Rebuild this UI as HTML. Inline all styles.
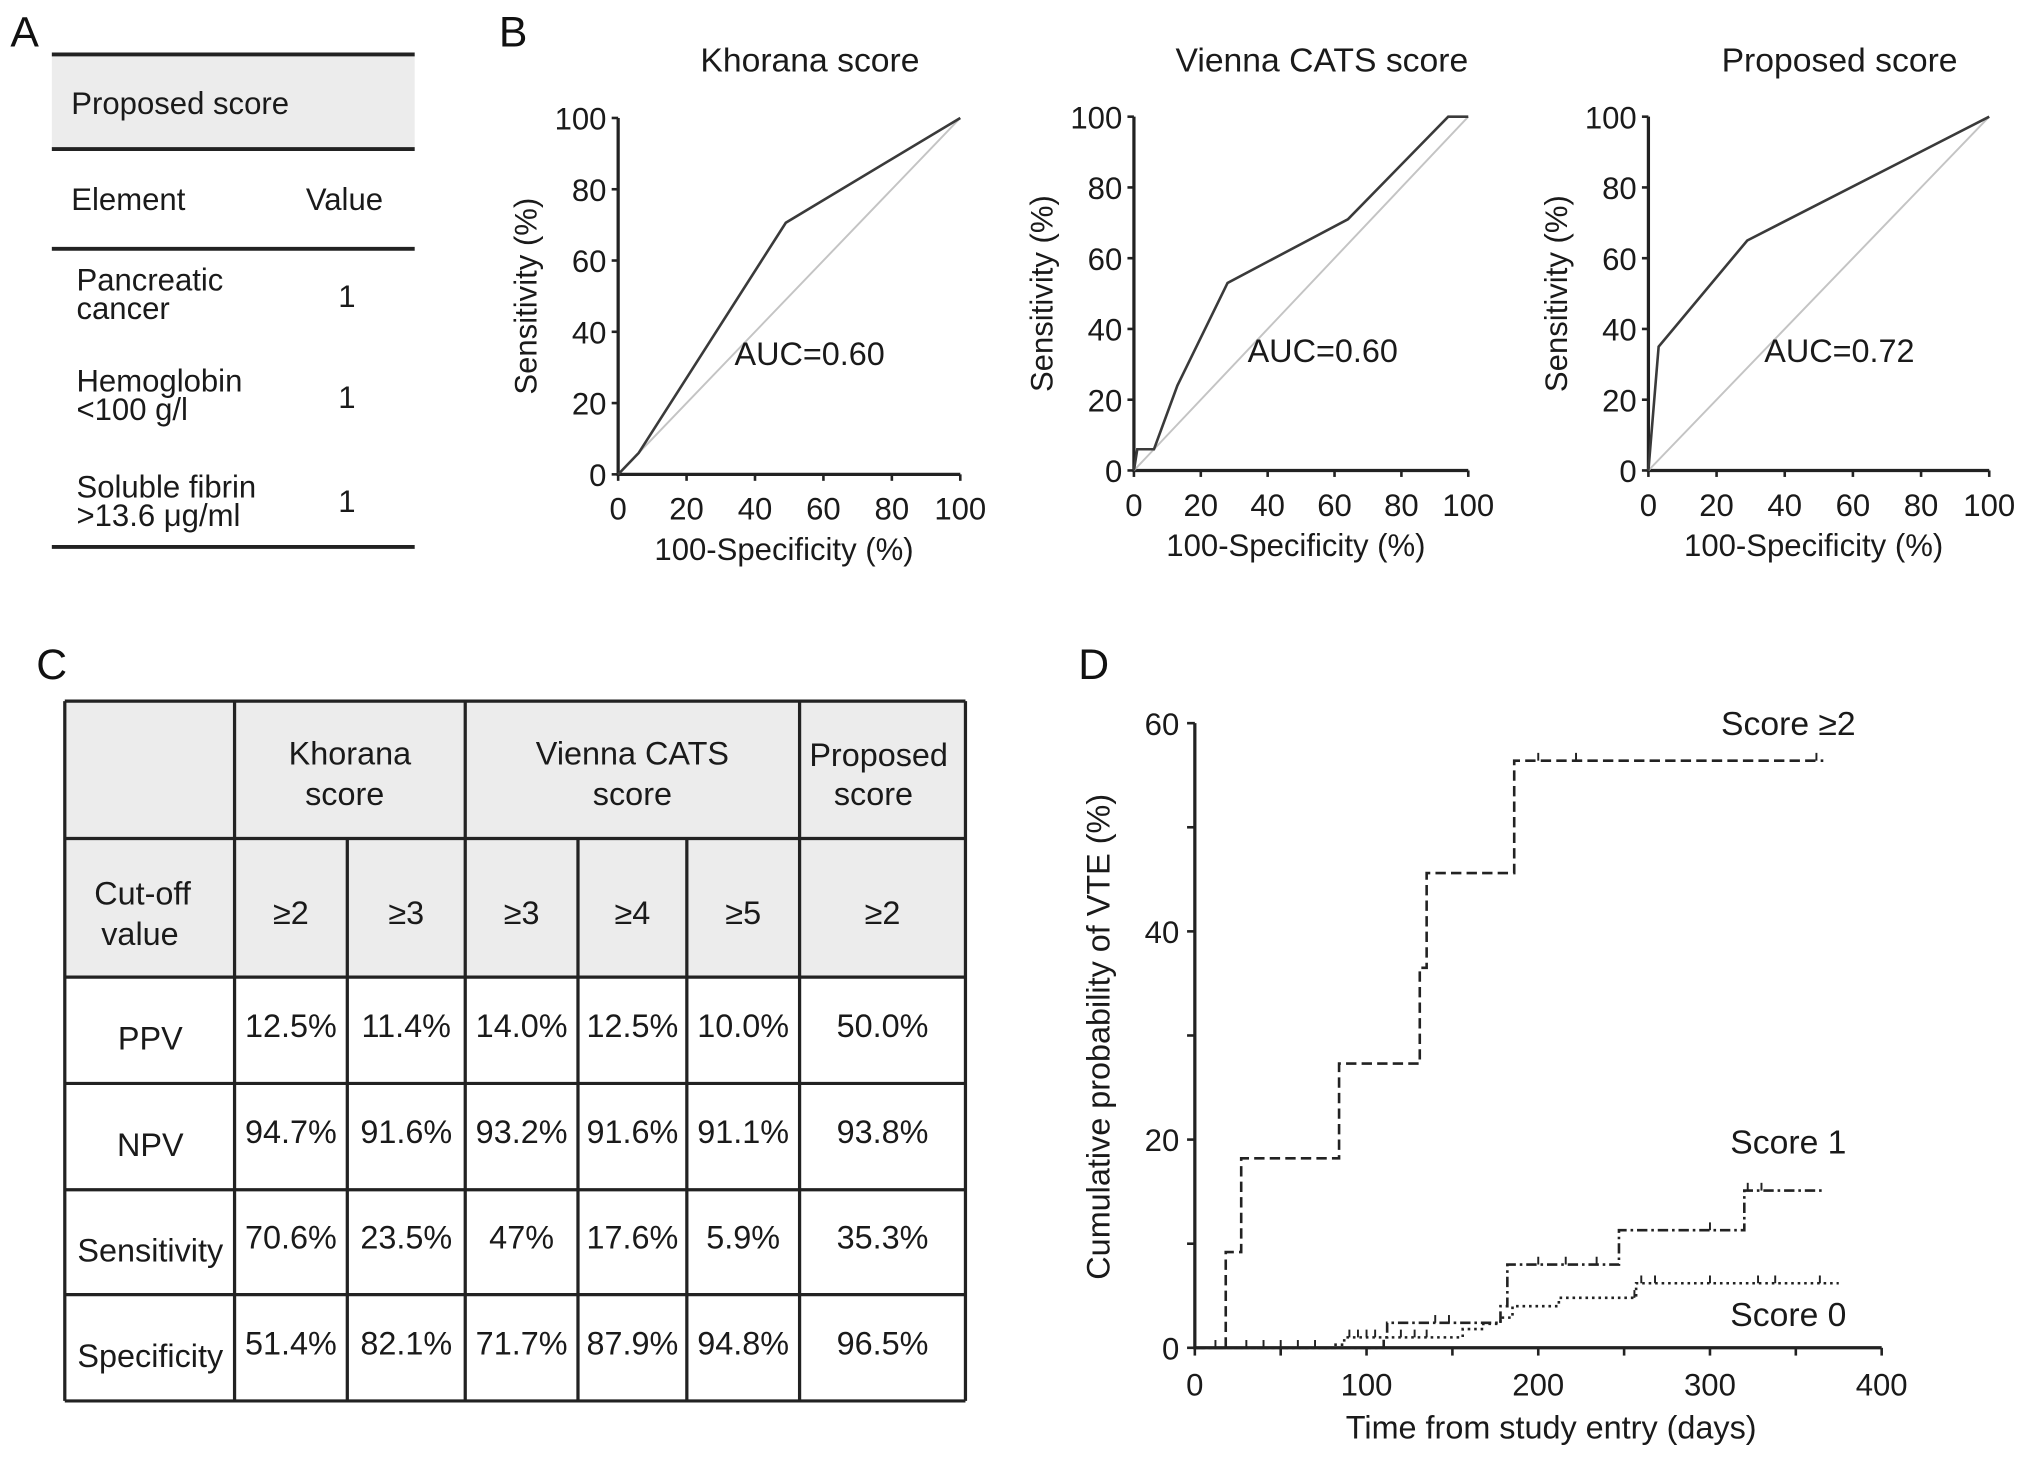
<!DOCTYPE html>
<html><head><meta charset="utf-8"><style>
html,body{margin:0;padding:0;background:#fff;}
svg{display:block;font-family:"Liberation Sans",Arial,sans-serif;}
</style></head><body>
<svg id="fig" width="2032" height="1458" viewBox="0 0 1568 1125" xmlns="http://www.w3.org/2000/svg">
<g fill="#111" font-size="33">
<text x="8" y="36">A</text>
<text x="385" y="36">B</text>
<text x="28" y="524">C</text>
<text x="832" y="524">D</text>
</g>
<!-- Panel A -->
<g fill="#1a1a1a" font-size="24">
<rect x="40" y="43" width="280" height="72" fill="#ececec"/>
<line x1="40" y1="42" x2="320" y2="42" stroke="#222" stroke-width="3"/>
<line x1="40" y1="115" x2="320" y2="115" stroke="#222" stroke-width="3"/>
<line x1="40" y1="192" x2="320" y2="192" stroke="#222" stroke-width="3"/>
<line x1="40" y1="422" x2="320" y2="422" stroke="#222" stroke-width="3"/>
<text x="55" y="88">Proposed score</text>
<text x="55" y="162">Element</text>
<text x="236" y="162">Value</text>
<text x="59" y="224">Pancreatic</text><text x="59" y="246">cancer</text><text x="261" y="237">1</text>
<text x="59" y="302">Hemoglobin</text><text x="59" y="324">&lt;100 g/l</text><text x="261" y="315">1</text>
<text x="59" y="384">Soluble fibrin</text><text x="59" y="406">&gt;13.6 μg/ml</text><text x="261" y="395">1</text>
</g>
<g id="roc"></g>
<!-- Panel C -->
<g id="tableC" font-size="25" fill="#1a1a1a"></g>
<g id="km"></g>
</svg>
<script>
const NS="http://www.w3.org/2000/svg";
function mk(p,tag,attrs,txt){const e=document.createElementNS(NS,tag);for(const k in attrs)e.setAttribute(k,attrs[k]);if(txt!==undefined)e.textContent=txt;p.appendChild(e);return e;}

// ROC data
const rocTitles=["Khorana score","Vienna CATS score","Proposed score"];
const rocAuc=["AUC=0.60","AUC=0.60","AUC=0.72"];
const khoranaFpr=[0,6,49,100];
const khoranaTpr=[0,6,70.6,100];
const viennaFpr=[0,1,6,13,28,64,94,100];
const viennaTpr=[0,6,6,24,53,71,100,100];
const proposedFpr=[0,3,29,100];
const proposedTpr=[0,35,65,100];
const rocTicks=[0,20,40,60,80,100];
const rocFpr=[khoranaFpr,viennaFpr,proposedFpr];
const rocTpr=[khoranaTpr,viennaTpr,proposedTpr];
const rocBoxes=[{x0:477,x1:741,y0:366,y1:91},{x0:875,x1:1133,y0:363,y1:90},{x0:1272,x1:1535,y0:363,y1:90}];
const roc=document.getElementById('roc');
rocBoxes.forEach((b,i)=>{
  const g=mk(roc,'g',{});
  
  
  const sx=v=>b.x0+(b.x1-b.x0)*v/100, sy=v=>b.y0+(b.y1-b.y0)*v/100;
  const t=mk(g,'text',{x:(b.x0+b.x1)/2+16,y:55,'text-anchor':'middle','font-size':26,fill:'#1a1a1a'},rocTitles[i]);
  
  
  const ax=mk(g,'path',{d:`M${b.x0},${b.y1}V${b.y0}H${b.x1}`,fill:'none',stroke:'#222','stroke-width':2.5});
  
  
  rocTicks.forEach(v=>{
    mk(g,'line',{x1:b.x0-5,x2:b.x0,y1:sy(v),y2:sy(v),stroke:'#222','stroke-width':2});
    mk(g,'line',{x1:sx(v),x2:sx(v),y1:b.y0,y2:b.y0+5,stroke:'#222','stroke-width':2});
    const yl=mk(g,'text',{x:b.x0-9,y:sy(v)+9,'text-anchor':'end','font-size':24,fill:'#1a1a1a'},v);
    
    
    const xl=mk(g,'text',{x:sx(v),y:b.y0+35,'text-anchor':'middle','font-size':24,fill:'#1a1a1a'},v);
    
    
  });
  const xt=mk(g,'text',{x:(b.x0+b.x1)/2-4,y:b.y0+66,'text-anchor':'middle','font-size':24,fill:'#1a1a1a'},'100-Specificity (%)');
  
  
  const cy=(b.y0+b.y1)/2;
  const yt=mk(g,'text',{x:b.x0-63,y:cy,'text-anchor':'middle','font-size':24,fill:'#1a1a1a',transform:`rotate(-90 ${b.x0-63} ${cy})`},'Sensitivity (%)');
  
  
  const dg=mk(g,'line',{x1:sx(0),y1:sy(0),x2:sx(100),y2:sy(100),stroke:'#c4c4c4','stroke-width':1.5});
  
  
  const pts=rocFpr[i].map((f,k)=>sx(f)+','+sy(rocTpr[i][k])).join(' ');
  const pl=mk(g,'polyline',{points:pts,fill:'none',stroke:'#3a3a3a','stroke-width':2});
  
  
  const at=mk(g,'text',{x:sx(34),y:sy(34)+9,'font-size':25,fill:'#1a1a1a'},rocAuc[i]);
  
  
});

// Table C
const tC=document.getElementById('tableC');
const colX=[50,181,268,359,446,530,617,745];
const rowY=[541,647,754,836,918,999,1081];
mk(tC,'rect',{x:50,y:541,width:695,height:213,fill:'#ececec'});
const rowLabels=["PPV","NPV","Sensitivity","Specificity"];
const cellVals=[["12.5%","11.4%","14.0%","12.5%","10.0%","50.0%"],["94.7%","91.6%","93.2%","91.6%","91.1%","93.8%"],["70.6%","23.5%","47%","17.6%","5.9%","35.3%"],["51.4%","82.1%","71.7%","87.9%","94.8%","96.5%"]];
const cutoffs=["≥2","≥3","≥3","≥4","≥5","≥2"];
const L=(x1,y1,x2,y2)=>mk(tC,'line',{x1,y1,x2,y2,stroke:'#222','stroke-width':2.5});
rowY.forEach(y=>L(50,y,745,y));
[50,181,359,617,745].forEach(x=>L(x,541,x,1081));
[268,446,530].forEach(x=>L(x,647,x,1081));
const T=(x,y,s,nm)=>{const e=mk(tC,'text',{x,y,'text-anchor':'middle'},s);return e;};
T(270,590,'Khorana','group-header');T(266,621,'score','group-header');
T(488,590,'Vienna CATS','group-header');T(488,621,'score','group-header');
T(678,591,'Proposed','group-header');T(674,621,'score','group-header');
T(110,698,'Cut-off','row-header');T(108,729,'value','row-header');
cutoffs.forEach((c,j)=>{const xs=j<5?(colX[j+1]+colX[j+2])/2:(617+745)/2;T(xs,713,c,'cutoff-cell');});
rowLabels.forEach((r,i)=>{
  const yc=(rowY[i+2]+rowY[i+3])/2;
  T(116,yc+15,r,'row-label');
  cellVals[i].forEach((v,j)=>{const xs=(colX[j+1]+colX[j+2])/2;T(xs,yc+5,v,'value-cell');});
});

// KM data
const s2Times=[0,18,27,84,131,135,186,366];
const s2Vals=[0,9.2,18.2,27.3,36.5,45.6,56.4,56.4];
const s1Times=[0,110,112,178,182,247,320,366];
const s1Vals=[0,1.0,2.4,4.0,8.0,11.3,15.1,15.1];
const s0Times=[0,80,87,156,168,178,185,212,257,375];
const s0Vals=[0,0.3,1.0,1.8,2.3,2.9,4.0,4.8,6.2,6.2];
const s2Censor=[200,222,362];
const s1Censor=[12,30,40,50,60,70,140,148,200,216,234,300,322,330];
const s0Censor=[90,95,100,105,120,128,135,256,260,268,300,328,338,364];
const kmXTicks=[0,100,200,300,400];
const kmYTicks=[0,20,40,60];
const km=document.getElementById('km');
const X0=922,X1=1452,Y0=1040,Y1=558;
const kx=v=>X0+(X1-X0)*v/400, ky=v=>Y0+(Y1-Y0)*v/60;
const kax=mk(km,'path',{d:`M${X0},${Y1}V${Y0}H${X1}`,fill:'none',stroke:'#222','stroke-width':2.5});


for(let v=0;v<=60;v+=10)mk(km,'line',{x1:X0-6,x2:X0,y1:ky(v),y2:ky(v),stroke:'#222','stroke-width':2});
for(let v=0;v<=400;v+=50)mk(km,'line',{x1:kx(v),x2:kx(v),y1:Y0,y2:Y0+6,stroke:'#222','stroke-width':2});
kmYTicks.forEach(v=>{const e=mk(km,'text',{x:X0-12,y:ky(v)+9,'text-anchor':'end','font-size':24,fill:'#1a1a1a'},v);});
kmXTicks.forEach(v=>{const e=mk(km,'text',{x:kx(v),y:Y0+37,'text-anchor':'middle','font-size':24,fill:'#1a1a1a'},v);});
const kxt=mk(km,'text',{x:1197,y:1110,'text-anchor':'middle','font-size':25,fill:'#1a1a1a'},'Time from study entry (days)');


const kyt=mk(km,'text',{x:856,y:800,'text-anchor':'middle','font-size':25,fill:'#1a1a1a',transform:'rotate(-90 856 800)'},'Cumulative probability of VTE (%)');


function stepVal(ts,vs,t){let v=0;for(let k=0;k<ts.length;k++)if(ts[k]<=t)v=vs[k];return v;}
function drawKM(ts,vs,cens,dash,nm){
  let d=`M${kx(ts[0])},${ky(vs[0])}`;
  for(let k=1;k<ts.length;k++){d+=`H${kx(ts[k])}V${ky(vs[k])}`;}
  const p=mk(km,'path',{d,fill:'none',stroke:'#222','stroke-width':2,'stroke-dasharray':dash});
  
  
  cens.forEach(t=>{const y=ky(stepVal(ts,vs,t));const c=mk(km,'line',{x1:kx(t),x2:kx(t),y1:y,y2:y-6,stroke:'#222','stroke-width':1.5});});
}
drawKM(s2Times,s2Vals,s2Censor,'8 4','curve-score-2-plus');
drawKM(s1Times,s1Vals,s1Censor,'8 3 2 3','curve-score-1');
drawKM(s0Times,s0Vals,s0Censor,'2 3','curve-score-0');
[['Score ≥2',1380,567,'label-score-2-plus'],['Score 1',1380,890,'label-score-1'],['Score 0',1380,1023,'label-score-0']].forEach(a=>{const e=mk(km,'text',{x:a[1],y:a[2],'text-anchor':'middle','font-size':26,fill:'#1a1a1a'},a[0]);});
</script>
</body></html>
